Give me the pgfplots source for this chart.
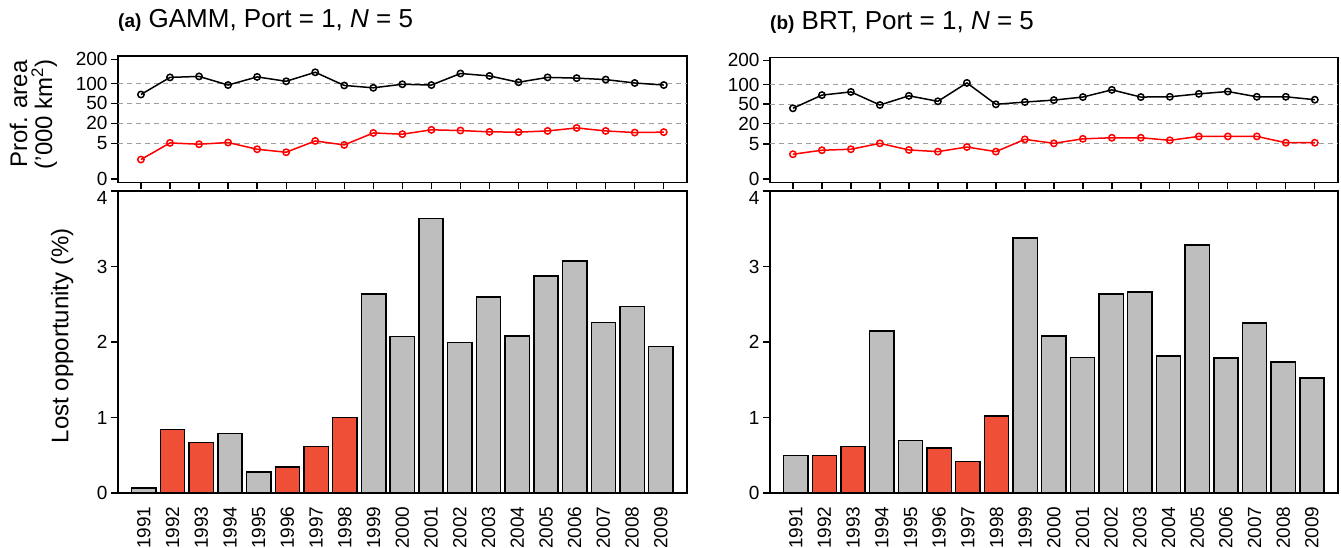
\documentclass[border=0pt]{standalone}
\usepackage{pgfplots}
\pgfplotsset{compat=1.18}
\usepackage{fontspec}
\setmainfont{Liberation Sans}
\definecolor{bargray}{RGB}{190,190,190}
\definecolor{barred}{RGB}{239,79,54}

\pgfplotsset{
  common/.style={
    scale only axis, anchor=south west,
    /pgf/number format/assume math mode=true,
    tick align=outside, xtick pos=bottom, ytick pos=left,
    axis line style={line width=1.4pt},
    tick style={line width=1.3pt, black},
    major tick length=7pt,
    tick label style={font=\fontsize{19}{21}\selectfont},
    label style={font=\fontsize{24}{25}\selectfont},
  },
  topax/.style={
    common, width=569pt, height=126.5pt,
    xmin=-0.79, xmax=18.8,
    ymin=-0.5, ymax=213,
    y coord trafo/.code={\pgfmathparse{min(7.08*(##1), min(35.4+1.3533*((##1)-5), min(55.7+0.6667*((##1)-20), min(75.7+0.394*((##1)-50), 95.4+0.243*((##1)-100)))))}},
    ytick={0,5,20,50,100,200},
    yticklabels={0,5,20,50,100,200},
    extra y ticks={5,20,50,100},
    extra y tick labels={},
    extra y tick style={grid=major, tick style={draw=none}},
    major grid style={gray!75, line width=1pt, dash pattern=on 5pt off 4pt},
    xtick={0,...,18}, xticklabels={},
    title style={at={(axis description cs:0,1)}, anchor=base west, yshift=22pt, inner sep=0pt, font=\fontsize{26}{28}\selectfont},
  },
  botax/.style={
    common, width=569pt, height=302pt,
    xmin=-0.898, xmax=18.91, ymin=0, ymax=4,
    ytick={0,1,2,3},
    extra y ticks={4},
    extra y tick style={yticklabel style={yshift=-7pt}},
    xtick={0,...,18},
    xticklabels={1991,1992,1993,1994,1995,1996,1997,1998,1999,2000,2001,2002,2003,2004,2005,2006,2007,2008,2009},
    xticklabel style={rotate=90, anchor=east},
    xticklabel shift=3pt,
    x tick style={draw=none},
  },
  blackline/.style={black, line width=1.5pt, mark=o, mark size=3.2pt, mark options={line width=1.5pt}},
  redline/.style={red, line width=1.5pt, mark=o, mark size=3.2pt, mark options={line width=1.5pt}},
  graybar/.style={ybar, bar width=0.846, bar shift=0pt, fill=bargray, draw=black, line width=1.5pt},
  redbar/.style={ybar, bar width=0.846, bar shift=0pt, fill=barred, draw=black, line width=1.5pt},
}

\begin{document}
\begin{tikzpicture}
\useasboundingbox (0,0) rectangle (1341pt,548pt);

% ---------- Panel (a) top ----------
\begin{axis}[topax, at={(118pt,365.5pt)},
  title={{\fontsize{19}{21}\selectfont\bfseries (a)} GAMM, Port = 1, \textit{N} = 5},
  ylabel={Prof. area\\('000 km\textsuperscript{2})},
  ylabel style={align=center, at={(axis description cs:-0.1485,0.54)}, anchor=center},
]
\addplot[blackline] coordinates {
(0,72) (1,125) (2,129) (3,96) (4,127) (5,109) (6,146) (7,95) (8,89) (9,98)
(10,96) (11,141) (12,131) (13,105) (14,125) (15,122) (16,116) (17,102) (18,96)};
\addplot[redline] coordinates {
(0,2.74) (1,5.44) (2,4.9) (3,5.74) (4,4.19) (5,3.77) (6,6.9) (7,4.8) (8,12.8) (9,11.9)
(10,15.1) (11,14.6) (12,13.6) (13,13.4) (14,14.3) (15,16.5) (16,14.3) (17,13.1) (18,13.4)};
\end{axis}

% ---------- Panel (a) bottom ----------
\begin{axis}[botax, at={(118pt,55pt)},
  ylabel={Lost opportunity (\%)},
  ylabel style={at={(axis description cs:-0.098,0.52)}, anchor=center},
]
\addplot[graybar] coordinates {
(0,0.066) (3,0.785) (4,0.28) (8,2.637) (9,2.073) (10,3.634) (11,1.993) (12,2.593)
(13,2.077) (14,2.871) (15,3.074) (16,2.258) (17,2.47) (18,1.94)};
\addplot[redbar] coordinates {
(1,0.84) (2,0.67) (5,0.344) (6,0.617) (7,1.0)};
\end{axis}

% ---------- Panel (b) top ----------
\begin{axis}[topax, at={(770pt,365.5pt)}, height=125.2pt, width=568pt,
  title={{\fontsize{19}{21}\selectfont\bfseries (b)} BRT, Port = 1, \textit{N} = 5},
]
\addplot[blackline] coordinates {
(0,43.5) (1,72.8) (2,81) (3,48.5) (4,71) (5,56.9) (6,106.6) (7,49.5) (8,55) (9,60)
(10,67.8) (11,86.3) (12,67.8) (13,68.5) (14,76) (15,82) (16,68.5) (17,68.5) (18,61)};
\addplot[redline] coordinates {
(0,3.53) (1,4.1) (2,4.24) (3,5.44) (4,4.14) (5,3.9) (6,4.56) (7,3.9) (8,8.4) (9,5.44)
(10,8.8) (11,9.6) (12,9.6) (13,7.7) (14,10.6) (15,10.6) (16,10.6) (17,5.9) (18,5.9)};
\end{axis}

% ---------- Panel (b) bottom ----------
\begin{axis}[botax, at={(770pt,55pt)}, width=568pt]
\addplot[graybar] coordinates {
(0,0.495) (3,2.144) (4,0.698) (8,3.377) (9,2.077) (10,1.794) (11,2.639) (12,2.665)
(13,1.817) (14,3.284) (15,1.786) (16,2.254) (17,1.733) (18,1.525)};
\addplot[redbar] coordinates {
(1,0.495) (2,0.614) (5,0.597) (6,0.415) (7,1.017)};
\end{axis}
\end{tikzpicture}
\end{document}
